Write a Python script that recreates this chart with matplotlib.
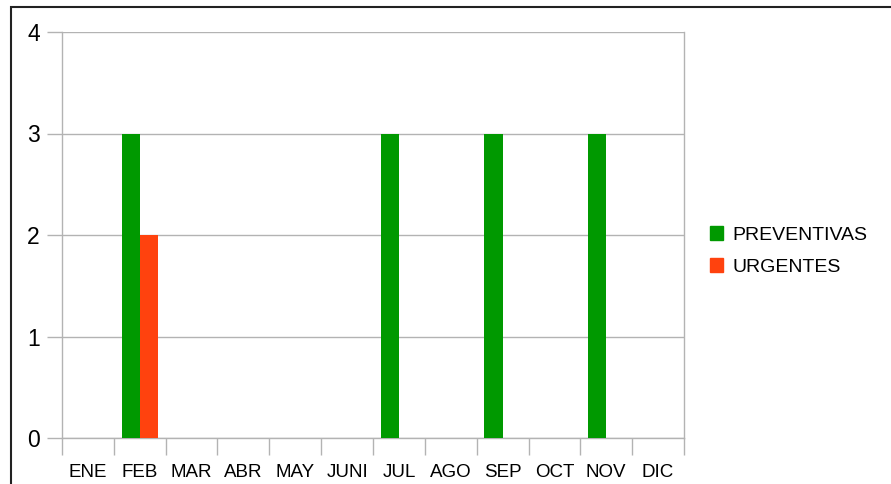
import numpy as np
import matplotlib.pyplot as plt
from matplotlib.patches import Rectangle, Patch

plt.rcParams['font.family'] = ['Liberation Sans', 'DejaVu Sans']

months = ['ENE', 'FEB', 'MAR', 'ABR', 'MAY', 'JUNI', 'JUL', 'AGO', 'SEP', 'OCT', 'NOV', 'DIC']
preventivas = [0, 3, 0, 0, 0, 0, 3, 0, 3, 0, 3, 0]
urgentes = [0, 2, 0, 0, 0, 0, 0, 0, 0, 0, 0, 0]

green = '#009900'
red = '#ff420e'
grey = '#b3b3b3'

fig = plt.figure(figsize=(8.91, 4.84), dpi=100)
ax = fig.add_axes([62 / 891, 1 - 438 / 484, 622 / 891, 406 / 484])

x = np.arange(len(months))
w = 0.35
ax.bar(x - w / 2, preventivas, width=w, color=green, zorder=3)
ax.bar(x + w / 2, urgentes, width=w, color=red, zorder=3)

ax.set_xlim(-0.5, len(months) - 0.5)
ax.set_ylim(0, 4)
ax.set_yticks([0, 1, 2, 3, 4])
ax.yaxis.grid(True, color=grey, linewidth=1, zorder=0)

ax.set_xticks(np.arange(-0.5, len(months), 1))
ax.set_xticklabels([])
ax.set_xticks(x, minor=True)
ax.set_xticklabels(months, minor=True)
ax.tick_params(axis='x', which='minor', length=0, pad=19, labelsize=13.5)
ax.tick_params(axis='x', which='major', length=12, color=grey, width=1)
ax.tick_params(axis='y', length=11, color=grey, width=1, labelsize=16.5, pad=5)

for s in ['left', 'right', 'bottom']:
    ax.spines[s].set_color(grey)
    ax.spines[s].set_linewidth(1)
ax.spines['top'].set_visible(False)

handles = [Patch(color=green, label='PREVENTIVAS'), Patch(color=red, label='URGENTES')]
fig.legend(handles=handles, loc='center left', bbox_to_anchor=(692 / 891, 1 - 251 / 484),
           frameon=False, fontsize=14, handlelength=0.7, handleheight=0.7,
           handletextpad=0.5, labelspacing=0.75)

fig.patches.append(Rectangle((11 / 891, -0.1), 1.2, 1 - 7 / 484 + 0.1, transform=fig.transFigure,
                             fill=False, edgecolor='#222222', linewidth=1.5))

fig.savefig('out.png', dpi=100)
